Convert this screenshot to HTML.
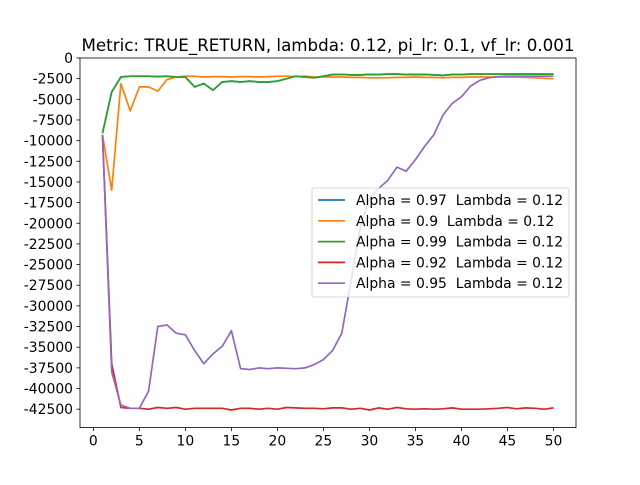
<!DOCTYPE html>
<html><head><meta charset="utf-8"><style>
body{margin:0;background:#fff;}
svg text{font-family:"DejaVu Sans","Liberation Sans",sans-serif;}
</style></head><body>
<svg id="chart" width="640" height="480" xmlns="http://www.w3.org/2000/svg">
<rect width="640" height="480" fill="#fff"/>
<text x="328" y="51" font-size="16.7" text-anchor="middle" fill="#000">Metric: TRUE_RETURN, lambda: 0.12, pi_lr: 0.1, vf_lr: 0.001</text>
<g id="grid"></g>
<g id="series"></g>
<rect x="80" y="58" width="496" height="369.6" fill="none" stroke="#000" stroke-width="0.8"/>
<g id="legend"></g>
</svg>
<script>
const categories = Array.from({length:50},(_,i)=>i+1);
const seriesNames = ["Alpha = 0.97  Lambda = 0.12","Alpha = 0.9  Lambda = 0.12","Alpha = 0.99  Lambda = 0.12","Alpha = 0.92  Lambda = 0.12","Alpha = 0.95  Lambda = 0.12"];
const seriesColors = ["#1f77b4","#ff7f0e","#2ca02c","#d62728","#9467bd"];
const alpha97 = [-9100,-4100,-2300,-2200,-2200,-2200,-2250,-2200,-2300,-2300,-3500,-3100,-3900,-2900,-2800,-2900,-2800,-2900,-2900,-2800,-2500,-2200,-2300,-2400,-2200,-2000,-2000,-2050,-2050,-2000,-2000,-1950,-1950,-2000,-2000,-2000,-2050,-2100,-2000,-2000,-1950,-1950,-1950,-1950,-1950,-1950,-1950,-1950,-1950,-1950];
const alpha90 = [-9300,-16000,-3100,-6400,-3500,-3500,-4000,-2600,-2300,-2200,-2200,-2300,-2250,-2250,-2300,-2250,-2250,-2300,-2250,-2200,-2200,-2250,-2200,-2300,-2300,-2300,-2300,-2350,-2350,-2400,-2400,-2400,-2350,-2350,-2300,-2350,-2350,-2400,-2350,-2350,-2300,-2300,-2300,-2300,-2300,-2300,-2350,-2400,-2450,-2500];
const alpha99 = [-9100,-4100,-2300,-2200,-2200,-2200,-2250,-2200,-2300,-2300,-3500,-3100,-3900,-2900,-2800,-2900,-2800,-2900,-2900,-2800,-2500,-2200,-2300,-2400,-2200,-2000,-2000,-2050,-2050,-2000,-2000,-1950,-1950,-2000,-2000,-2000,-2050,-2100,-2000,-2000,-1950,-1950,-1950,-1950,-1950,-1950,-1950,-1950,-1950,-1950];
const alpha92 = [-9300,-37000,-42300,-42400,-42400,-42500,-42300,-42400,-42300,-42500,-42400,-42400,-42400,-42400,-42600,-42400,-42400,-42500,-42400,-42500,-42300,-42350,-42400,-42400,-42450,-42350,-42350,-42500,-42400,-42600,-42350,-42500,-42300,-42450,-42500,-42450,-42500,-42450,-42350,-42500,-42500,-42500,-42450,-42400,-42300,-42450,-42350,-42400,-42500,-42350];
const alpha95 = [-9300,-38000,-42000,-42400,-42400,-40300,-32500,-32300,-33300,-33500,-35400,-37000,-35800,-34900,-33000,-37600,-37700,-37500,-37600,-37500,-37550,-37600,-37500,-37100,-36500,-35400,-33300,-27000,-20500,-17000,-15800,-14800,-13200,-13700,-12300,-10700,-9300,-6900,-5500,-4700,-3400,-2700,-2400,-2250,-2200,-2200,-2200,-2200,-2200,-2200];
const yTicks = [0,-2500,-5000,-7500,-10000,-12500,-15000,-17500,-20000,-22500,-25000,-27500,-30000,-32500,-35000,-37500,-40000,-42500];
const xTicks = [0,5,10,15,20,25,30,35,40,45,50];
const allSeries=[alpha97,alpha90,alpha99,alpha92,alpha95];
const NS="http://www.w3.org/2000/svg";
const L=80,R=576,T=58,B=427.6;
const xMin=-1.45,xMax=52.45,yMax=0,yMin=-44730;
function xs(v){return L+(v-xMin)/(xMax-xMin)*(R-L);}
function ys(v){return T+(yMax-v)/(yMax-yMin)*(B-T);}
function mk(tag,attrs,parent){const e=document.createElementNS(NS,tag);for(const k in attrs)e.setAttribute(k,attrs[k]);parent.appendChild(e);return e;}
const grid=document.getElementById('grid');
yTicks.forEach(t=>{const y=ys(t);
const ln=mk('line',{x1:L-3.5,x2:L,y1:y,y2:y,stroke:'#000','stroke-width':0.8},grid);


const tx=mk('text',{x:L-7,y:y+5,'font-size':13.9,'text-anchor':'end',fill:'#000'},grid);tx.textContent=t;

});
xTicks.forEach(t=>{const x=xs(t);
const ln=mk('line',{x1:x,x2:x,y1:B,y2:B+3.5,stroke:'#000','stroke-width':0.8},grid);


const tx=mk('text',{x:x,y:B+18,'font-size':13.9,'text-anchor':'middle',fill:'#000'},grid);tx.textContent=t;

});
const sg=document.getElementById('series');
allSeries.forEach((s,i)=>{const pts=s.map((v,j)=>xs(categories[j]).toFixed(1)+','+ys(v).toFixed(1)).join(' ');
const p=mk('polyline',{points:pts,fill:'none',stroke:seriesColors[i],'stroke-width':1.7,'stroke-linejoin':'round'},sg);

});
const lg=document.getElementById('legend');
const box=mk('rect',{x:312,y:188,width:257,height:109,rx:2,fill:'#fff','fill-opacity':0.8,stroke:'#ccc','stroke-width':0.8},lg);


seriesNames.forEach((n,i)=>{const y=200+i*20.8;
const ln=mk('line',{x1:318,x2:345,y1:y,y2:y,stroke:seriesColors[i],'stroke-width':1.7},lg);


const tx=mk('text',{x:356,y:y+5,'font-size':13.9,fill:'#000','xml:space':'preserve'},lg);tx.textContent=n;
tx.style.whiteSpace='pre';

});
</script>
</body></html>
